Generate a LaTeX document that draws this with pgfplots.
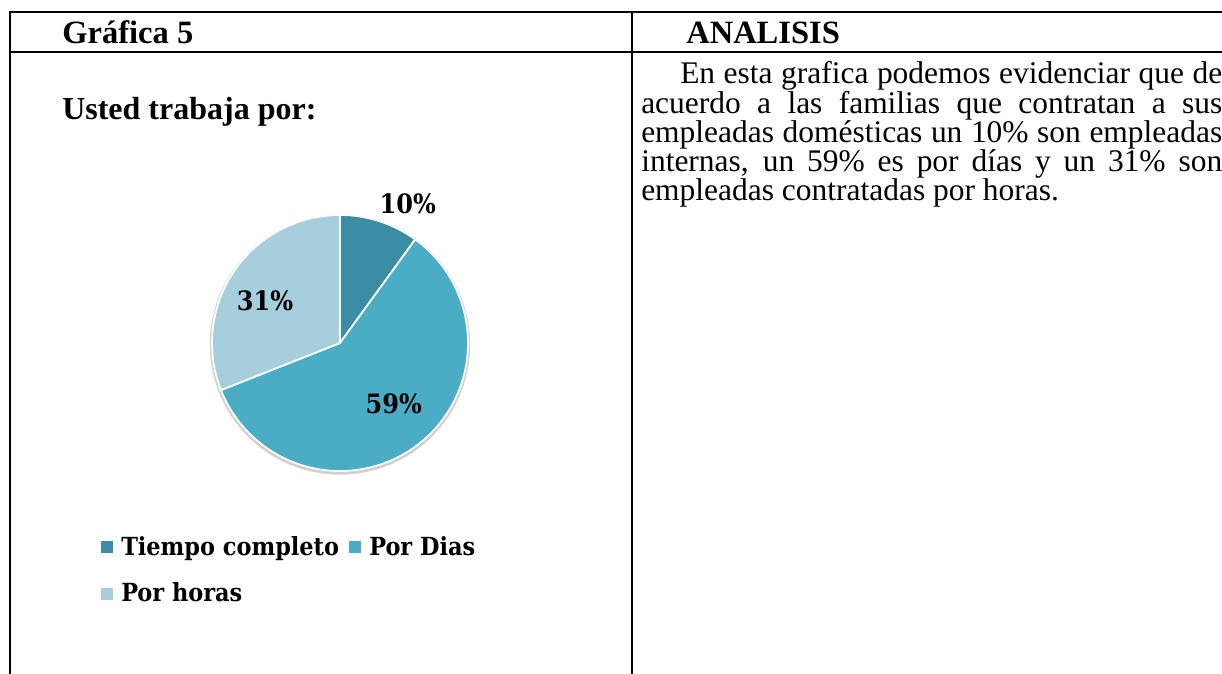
\documentclass[border=0pt]{standalone}
\usepackage{fontspec}
\setmainfont{Liberation Serif}
\newfontfamily\cambria{DejaVu Serif Condensed}
\usepackage{pgfplots}
\pgfplotsset{compat=1.18}
\usepackage{pgfplotstable}
\definecolor{c1}{RGB}{60,140,163}
\definecolor{c2}{RGB}{75,172,198}
\definecolor{c3}{RGB}{167,206,220}
\pgfplotstableread{
label value
Tiempo 10
Dias 59
Horas 31
}\piedata
\pgfplotstablegetelem{0}{value}\of\piedata \let\va\pgfplotsretval
\pgfplotstablegetelem{1}{value}\of\piedata \let\vb\pgfplotsretval
\pgfplotstablegetelem{2}{value}\of\piedata \let\vc\pgfplotsretval
\pgfmathsetmacro\aA{90}
\pgfmathsetmacro\aB{90-3.6*\va}
\pgfmathsetmacro\aC{\aB-3.6*\vb}
\pgfmathsetmacro\aD{\aC-3.6*\vc}
\begin{document}%
\begin{tikzpicture}[x=0.75pt,y=0.75pt]
% table frame
\draw[line width=1.5pt] (10,662) -- (1222,662);
\draw[line width=1.5pt] (10,622) -- (1222,622);
\draw[line width=1.5pt] (10,662.75) -- (10,0);
\draw[line width=1.5pt] (632,662.75) -- (632,0);
% headers
\node[anchor=base west,inner sep=0,font=\bfseries\fontsize{24.4}{26}\selectfont] at (62,630) {Gráfica 5};
\node[anchor=base west,inner sep=0,font=\bfseries\fontsize{24.4}{26}\selectfont] at (686,630) {ANALISIS};
\node[anchor=base west,inner sep=0,font=\bfseries\fontsize{24}{26}\selectfont] at (62,554) {Usted trabaja por:};
% paragraph
\node[anchor=base west,inner sep=0,text width=435.75pt,align=justify,font=\fontsize{23.6}{21.9}\selectfont] at (641,590)
{\hspace*{29.25pt}En esta grafica podemos evidenciar que de\linebreak acuerdo a las familias que contratan a sus\linebreak empleadas domésticas un 10\% son empleadas\linebreak internas, un 59\% es por días y un 31\% son\linebreak empleadas contratadas por horas.};
% pie
\begin{axis}[at={(255pt,248.25pt)},anchor=center,scale only axis,width=192pt,height=192pt,
  xmin=-1,xmax=1,ymin=-1,ymax=1,hide axis,clip=false]
\fill[black!18] (axis cs:0,-0.012) circle[radius=97.6pt];
\fill[c1,draw=white,line width=1.3pt,line join=round] (axis cs:0,0) -- ++(\aA:96pt) arc[start angle=\aA,end angle=\aB,radius=96pt] -- cycle;
\fill[c2,draw=white,line width=1.3pt,line join=round] (axis cs:0,0) -- ++(\aB:96pt) arc[start angle=\aB,end angle=\aC,radius=96pt] -- cycle;
\fill[c3,draw=white,line width=1.3pt,line join=round] (axis cs:0,0) -- ++(\aC:96pt) arc[start angle=\aC,end angle=\aD,radius=96pt] -- cycle;
\node[font=\cambria\bfseries\fontsize{20}{22}\selectfont] at (axis cs:0.53,1.09) {\va\%};
\node[font=\cambria\bfseries\fontsize{20}{22}\selectfont] at (axis cs:0.42,-0.477) {\vb\%};
\node[font=\cambria\bfseries\fontsize{20}{22}\selectfont] at (axis cs:-0.586,0.328) {\vc\%};
\end{axis}
% legend
\fill[c1] (101,121) rectangle (113,133);
\node[anchor=base west,inner sep=0,font=\cambria\bfseries\fontsize{18.7}{20}\selectfont] at (121,118) {Tiempo completo};
\fill[c2] (349,121) rectangle (361,133);
\node[anchor=base west,inner sep=0,font=\cambria\bfseries\fontsize{18.7}{20}\selectfont] at (369,118) {Por Dias};
\fill[c3] (101,74) rectangle (113,86);
\node[anchor=base west,inner sep=0,font=\cambria\bfseries\fontsize{18.7}{20}\selectfont] at (121,72) {Por horas};
\pgfresetboundingbox
\path[use as bounding box] (0,0) rectangle (1222,674);
\end{tikzpicture}%
\end{document}
